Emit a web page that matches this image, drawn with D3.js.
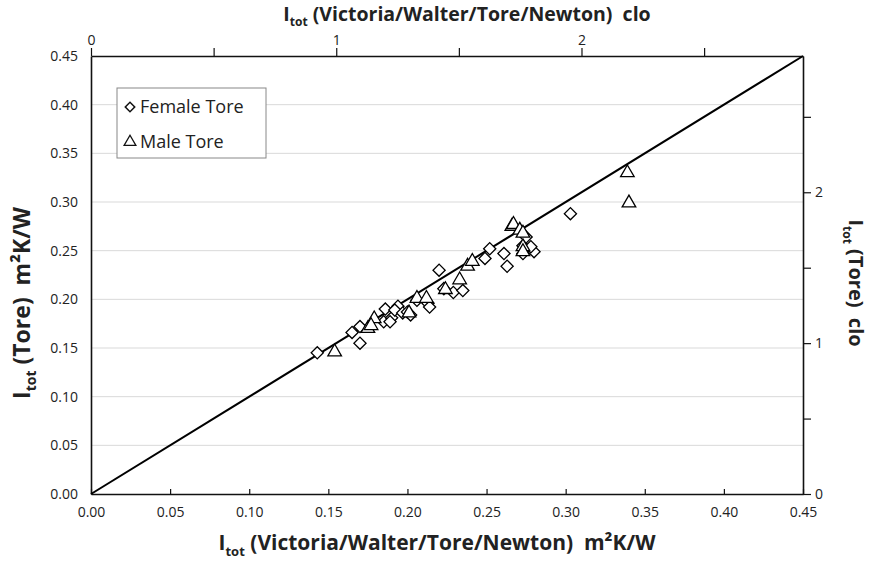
<!DOCTYPE html>
<html>
<head>
<meta charset="utf-8">
<script src="https://cdn.jsdelivr.net/npm/d3@7"></script>
<style>
  body { margin: 0; background: #fff; }
  text { font-family: "Open Sans", "Liberation Sans", sans-serif; fill: #222; }
  .tick text { font-size: 14px; }
  .title { font-weight: bold; white-space: pre; }
  .grid line { stroke: #d9d9d9; }
</style>
</head>
<body>
<script>
// Female Tore: [Victoria/Walter/Tore/Newton, Tore], m2K/W
var femaleX = [0.143, 0.165, 0.170, 0.170, 0.186, 0.185, 0.190, 0.189, 0.194, 0.192, 0.197, 0.200, 0.202,
               0.206, 0.213, 0.214, 0.220, 0.223, 0.229, 0.235, 0.249, 0.252, 0.261, 0.263, 0.273, 0.275,
               0.280, 0.273, 0.278, 0.303];
var femaleY = [0.145, 0.166, 0.155, 0.172, 0.190, 0.177, 0.181, 0.177, 0.193, 0.189, 0.186, 0.187, 0.184,
               0.199, 0.196, 0.192, 0.230, 0.211, 0.207, 0.209, 0.242, 0.252, 0.247, 0.234, 0.255, 0.264,
               0.249, 0.247, 0.254, 0.288];
// Male Tore
var maleX = [0.154, 0.175, 0.179, 0.177, 0.201, 0.206, 0.212, 0.224, 0.233, 0.238, 0.241, 0.266, 0.267,
             0.271, 0.273, 0.273, 0.273, 0.339, 0.340];
var maleY = [0.146, 0.170, 0.180, 0.173, 0.186, 0.201, 0.201, 0.210, 0.220, 0.234, 0.239, 0.275, 0.277,
             0.271, 0.268, 0.254, 0.249, 0.330, 0.299];

var mTicks = [0, 0.05, 0.10, 0.15, 0.20, 0.25, 0.30, 0.35, 0.40, 0.45];
var cloTicks = [0, 0.5, 1, 1.5, 2, 2.5];
var cloLabels = ["0", "", "1", "", "2", ""];
var cloFactor = 0.155; // 1 clo = 0.155 m2K/W

var W = 872, H = 562;
var margin = {top: 56, right: 69, bottom: 68, left: 91};
var width = W - margin.left - margin.right,
    height = H - margin.top - margin.bottom;

var svg = d3.select("body").append("svg")
    .attr("width", W)
    .attr("height", H);

var g = svg.append("g")
    .attr("transform", "translate(" + margin.left + "," + margin.top + ")");

var x = d3.scaleLinear().domain([0, 0.45]).range([0, width]);
var y = d3.scaleLinear().domain([0, 0.45]).range([height, 0]);
var xClo = d3.scaleLinear().domain([0, 0.45 / cloFactor]).range([0, width]);
var yClo = d3.scaleLinear().domain([0, 0.45 / cloFactor]).range([height, 0]);

// grid
g.append("g").attr("class", "grid")
  .selectAll("line")
  .data(mTicks.slice(1, -1))
  .enter().append("line")
    .attr("x1", 0).attr("x2", width)
    .attr("y1", function(d) { return y(d); })
    .attr("y2", function(d) { return y(d); });

// axes
var fmt = d3.format(".2f");
var axBottom = g.append("g")
    .attr("transform", "translate(0," + height + ")")
    .call(d3.axisBottom(x).tickValues(mTicks).tickFormat(fmt).tickSizeInner(-5).tickSizeOuter(0).tickPadding(13));
var axLeft = g.append("g")
    .call(d3.axisLeft(y).tickValues(mTicks).tickFormat(fmt).tickSize(0).tickPadding(13));
var axTop = g.append("g")
    .call(d3.axisTop(xClo).tickValues(cloTicks).tickFormat(function(d, i) { return cloLabels[i]; })
      .tickSizeInner(8).tickSizeOuter(0).tickPadding(3));
var axRight = g.append("g")
    .attr("transform", "translate(" + width + ",0)")
    .call(d3.axisRight(yClo).tickValues(cloTicks).tickFormat(function(d, i) { return cloLabels[i]; })
      .tickSizeInner(8).tickSizeOuter(0).tickPadding(4));

[axBottom, axLeft, axTop, axRight].forEach(function(a) {
  a.select(".domain").attr("stroke", "#111").attr("stroke-width", 1.6);
  a.selectAll(".tick line").attr("stroke", "#111").attr("stroke-width", 1.2);
  a.selectAll(".tick text").attr("fill", "#222");
});

// 1:1 line
g.append("line")
    .attr("x1", x(0)).attr("y1", y(0))
    .attr("x2", x(0.45)).attr("y2", y(0.45))
    .attr("stroke", "#000").attr("stroke-width", 2);

var diamond = d3.symbol().type(d3.symbolSquare).size(74)();
var triangle = d3.symbol().type(d3.symbolTriangle).size(80)();

g.append("g").selectAll("path")
  .data(femaleX)
  .enter().append("path")
    .attr("d", diamond)
    .attr("transform", function(d, i) { return "translate(" + x(d) + "," + y(femaleY[i]) + ") rotate(45)"; })
    .attr("fill", "#fff").attr("stroke", "#000").attr("stroke-width", 1.3);

g.append("g").selectAll("path")
  .data(maleX)
  .enter().append("path")
    .attr("d", triangle)
    .attr("transform", function(d, i) { return "translate(" + x(d) + "," + y(maleY[i]) + ")"; })
    .attr("fill", "#fff").attr("stroke", "#000").attr("stroke-width", 1.3);

// legend
var lg = svg.append("g").attr("transform", "translate(117,88)");
lg.append("rect").attr("width", 149).attr("height", 70)
    .attr("fill", "#fff").attr("stroke", "#888").attr("stroke-width", 1);
lg.append("path").attr("d", d3.symbol().type(d3.symbolSquare).size(45)())
    .attr("transform", "translate(13,19) rotate(45)")
    .attr("fill", "none").attr("stroke", "#111").attr("stroke-width", 1.5);
lg.append("path").attr("d", d3.symbol().type(d3.symbolTriangle).size(60)())
    .attr("transform", "translate(13,54)")
    .attr("fill", "none").attr("stroke", "#111").attr("stroke-width", 1.3);
lg.append("text").attr("x", 23).attr("y", 25).style("font-size", "18px").text("Female Tore");
lg.append("text").attr("x", 23).attr("y", 60).style("font-size", "18px").text("Male Tore");

// titles
function title(sel, size, rest) {
  sel.attr("class", "title").attr("text-anchor", "middle").style("font-size", size + "px");
  sel.append("tspan").text("I");
  sel.append("tspan").attr("dy", size * 0.28).style("font-size", Math.round(size * 0.62) + "px").text("tot");
  sel.append("tspan").attr("dy", -size * 0.28).text(" " + rest);
  return sel;
}
title(svg.append("text").attr("x", 437).attr("y", 550), 21, "(Victoria/Walter/Tore/Newton)  m²K/W");
title(svg.append("text").attr("x", 467).attr("y", 21), 19.5, "(Victoria/Walter/Tore/Newton)  clo");
title(svg.append("text").attr("transform", "translate(30,303) rotate(-90)"), 23, "(Tore)  m²K/W");
title(svg.append("text").attr("transform", "translate(849,283) rotate(90)"), 20, "(Tore)  clo");
</script>
</body>
</html>
